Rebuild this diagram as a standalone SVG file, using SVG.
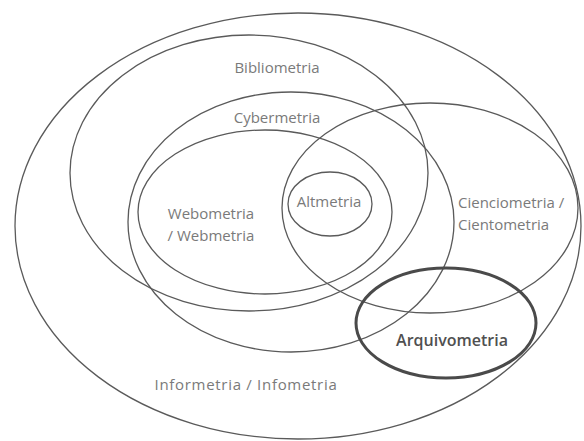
<svg xmlns="http://www.w3.org/2000/svg" width="584" height="441" viewBox="0 0 584 441">
<style>
.e{fill:none;stroke:#5a5a5a;stroke-width:1.3}
.b{fill:none;stroke:#4a4a4a;stroke-width:3}
text{font-family:"Open Sans","Noto Sans","Liberation Sans",sans-serif;font-size:15px;fill:#7a7a7a;text-anchor:middle}
.bt{fill:#505050;font-weight:600;font-size:16px}
.l{text-anchor:start}
</style>
<rect width="584" height="441" fill="#ffffff"/>
<g id="informetria">
<ellipse class="e" cx="298" cy="226" rx="283" ry="213"/>
<text x="246" y="390" letter-spacing="0.7">Informetria / Infometria</text>
</g>
<g id="bibliometria">
<ellipse class="e" cx="249" cy="173" rx="179" ry="138"/>
<text x="277" y="73">Bibliometria</text>
</g>
<g id="cybermetria">
<ellipse class="e" cx="291" cy="222" rx="163" ry="130"/>
<text x="277" y="123">Cybermetria</text>
</g>
<g id="webometria">
<ellipse class="e" cx="265" cy="212" rx="127" ry="82"/>
<text x="211" y="219">Webometria</text>
<text x="211" y="241">/ Webmetria</text>
</g>
<g id="altmetria">
<ellipse class="e" cx="330" cy="204" rx="42" ry="32"/>
<text x="329" y="207">Altmetria</text>
</g>
<g id="cienciometria">
<ellipse class="e" cx="430" cy="208" rx="148" ry="105"/>
<text class="l" x="458" y="208">Cienciometria /</text>
<text class="l" x="458" y="230">Cientometria</text>
</g>
<g id="arquivometria">
<ellipse class="b" cx="446" cy="323" rx="90" ry="55"/>
<text class="bt" x="452" y="346">Arquivometria</text>
</g>
<g id="connectors"></g>
</svg>
